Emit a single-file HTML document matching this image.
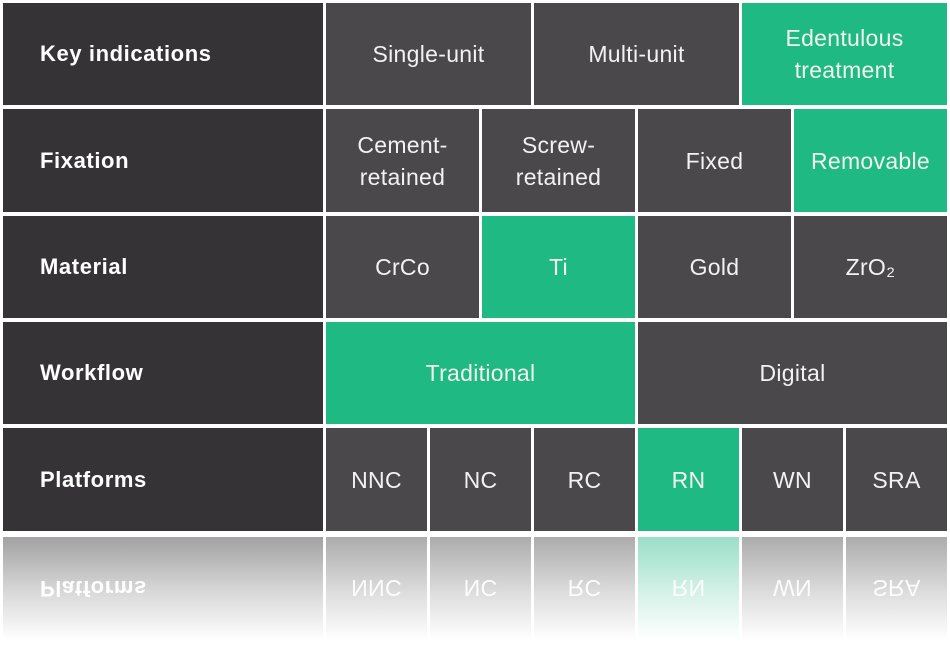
<!DOCTYPE html>
<html style="overflow:hidden;width:950px;height:654px"><head><meta charset="utf-8"><style>
body{margin:0;width:950px;height:654px;background:#fff;position:relative;overflow:hidden;font-family:"Liberation Sans",sans-serif}
.c{position:absolute;display:flex;align-items:center;justify-content:center;text-align:center;color:#f2f2f2;font-size:23px;line-height:32px;background:#4a484b;letter-spacing:0.3px}
.l{background:#353336;justify-content:flex-start;padding-left:37px;box-sizing:border-box;font-weight:bold;font-size:22px;color:#fff;letter-spacing:0.6px}
.g{background:#1fba84}
#ref{position:absolute;left:0;top:537px;width:950px;height:103px;overflow:hidden}
#refin{position:absolute;left:0;top:0;width:950px;height:103px;transform:scaleY(-1);opacity:.45}
#refin .c{top:0;height:103px}
#fade{position:absolute;left:0;top:0;width:950px;height:103px;background:linear-gradient(rgba(255,255,255,0) 0%,rgba(255,255,255,.6) 55%,#fff 100%)}
</style></head><body>
<div class="c l" style="left:3px;top:3px;width:320px;height:102px">Key indications</div>
<div class="c" style="left:326px;top:3px;width:205px;height:102px">Single-unit</div>
<div class="c" style="left:534px;top:3px;width:205px;height:102px">Multi-unit</div>
<div class="c g" style="left:742px;top:3px;width:205px;height:102px">Edentulous<br>treatment</div>

<div class="c l" style="left:3px;top:109px;width:320px;height:103px">Fixation</div>
<div class="c" style="left:326px;top:109px;width:153px;height:103px">Cement-<br>retained</div>
<div class="c" style="left:482px;top:109px;width:153px;height:103px">Screw-<br>retained</div>
<div class="c" style="left:638px;top:109px;width:153px;height:103px">Fixed</div>
<div class="c g" style="left:794px;top:109px;width:153px;height:103px">Removable</div>

<div class="c l" style="left:3px;top:216px;width:320px;height:102px">Material</div>
<div class="c" style="left:326px;top:216px;width:153px;height:102px">CrCo</div>
<div class="c g" style="left:482px;top:216px;width:153px;height:102px">Ti</div>
<div class="c" style="left:638px;top:216px;width:153px;height:102px">Gold</div>
<div class="c" style="left:794px;top:216px;width:153px;height:102px">ZrO₂</div>

<div class="c l" style="left:3px;top:322px;width:320px;height:102px">Workflow</div>
<div class="c g" style="left:326px;top:322px;width:309px;height:102px">Traditional</div>
<div class="c" style="left:638px;top:322px;width:309px;height:102px">Digital</div>

<div class="c l" style="left:3px;top:428px;width:320px;height:103px">Platforms</div>
<div class="c" style="left:326px;top:428px;width:101px;height:103px">NNC</div>
<div class="c" style="left:430px;top:428px;width:101px;height:103px">NC</div>
<div class="c" style="left:534px;top:428px;width:101px;height:103px">RC</div>
<div class="c g" style="left:638px;top:428px;width:101px;height:103px">RN</div>
<div class="c" style="left:742px;top:428px;width:101px;height:103px">WN</div>
<div class="c" style="left:846px;top:428px;width:101px;height:103px">SRA</div>

<div id="ref"><div id="refin">
<div class="c l" style="left:3px;width:320px">Platforms</div>
<div class="c" style="left:326px;width:101px">NNC</div>
<div class="c" style="left:430px;width:101px">NC</div>
<div class="c" style="left:534px;width:101px">RC</div>
<div class="c g" style="left:638px;width:101px">RN</div>
<div class="c" style="left:742px;width:101px">WN</div>
<div class="c" style="left:846px;width:101px">SRA</div>
</div><div id="fade"></div></div>
</body></html>
